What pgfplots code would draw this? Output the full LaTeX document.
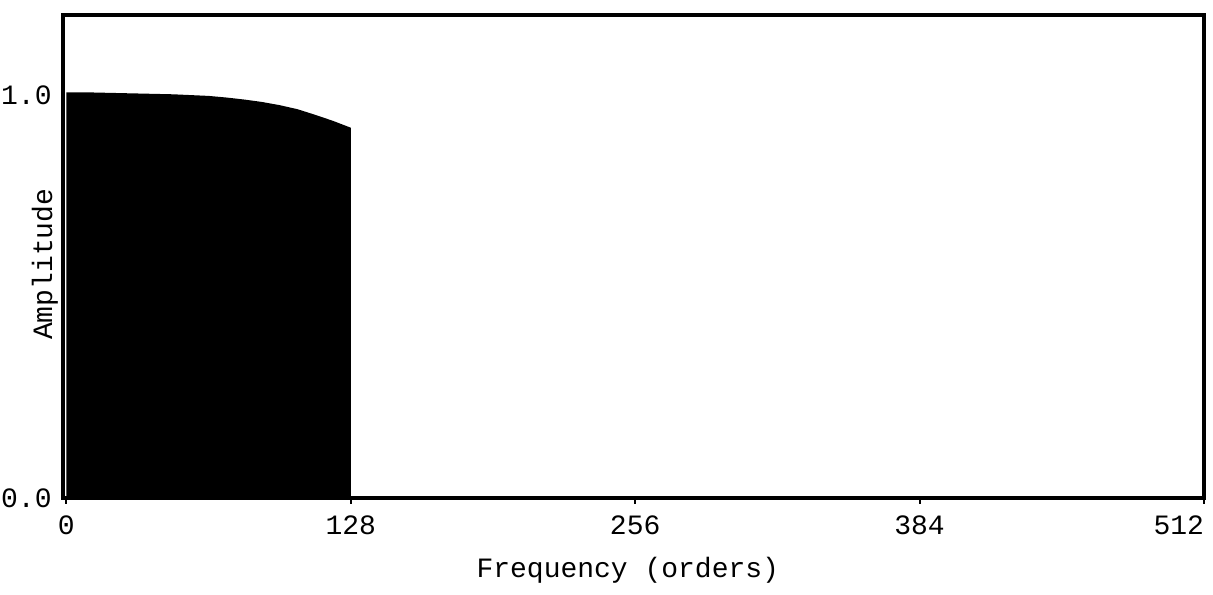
\documentclass[border=0pt]{standalone}
\usepackage{fontspec}
\setmainfont{Liberation Mono}
\usepackage{pgfplots}
\pgfplotsset{compat=1.18}
\begin{document}
\fontsize{14pt}{16pt}\selectfont
\begin{tikzpicture}
\begin{axis}[
  scale only axis,
  width=570.5pt, height=241.5pt,
  xmin=-1.5, xmax=512, ymin=0, ymax=1.2,
  axis line style={line width=1.6pt},
  xtick={0,128,256,384,512},
  xticklabels={0,128,256,384,{\makebox[0pt][r]{512}}},
  ytick={0,1},
  yticklabels={0.0,1.0},
  tick style={line width=1pt, black},
  xtick pos=bottom, ytick pos=left,
  tick align=outside,
  major tick length=3pt,
  ytick style={draw=none},
  /pgf/number format/assume math mode=true,
  tick label style={font=\fontsize{14pt}{16pt}\selectfont},
  yticklabel style={inner xsep=0pt, xshift=-2.5pt},
  xticklabel style={yshift=-1pt},
  xlabel={Frequency (orders)},
  ylabel={Amplitude},
  every axis x label/.style={at={(axis description cs:0.495,-0.15)}, anchor=center, font=\fontsize{14pt}{16pt}\selectfont},
  every axis y label/.style={at={(axis description cs:-0.0158,0.484)}, rotate=90, anchor=center, font=\fontsize{14pt}{16pt}\selectfont},
]
\addplot[fill=black, draw=none] coordinates {
(0,1.008) (8,1.008) (16,1.007) (24,1.006) (32,1.005) (40,1.004) (48,1.003) (56,1.001) (64,0.999) (72,0.995) (80,0.990) (88,0.984) (96,0.976) (104,0.966) (112,0.952) (120,0.937) (128,0.920)
} \closedcycle;
\end{axis}
\pgfresetboundingbox
\path ([shift={(-31.5pt,-48.5pt)}]current axis.south west) rectangle ([shift={(4.5pt,7.5pt)}]current axis.north east);
\end{tikzpicture}
\end{document}
